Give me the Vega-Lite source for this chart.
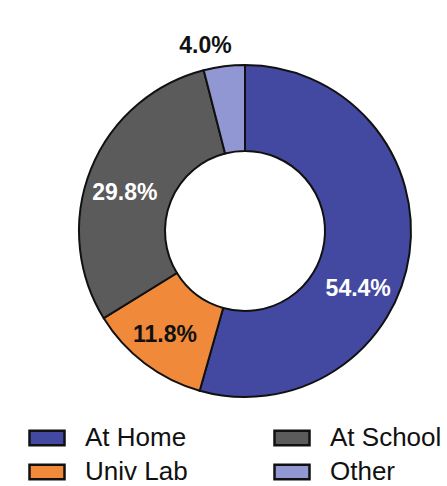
{
  "$schema": "https://vega.github.io/schema/vega-lite/v6.json",
  "autosize": {"type": "none"},
  "width": 400,
  "height": 400,
  "padding": {"left": 45, "top": 31, "right": 2, "bottom": 55},
  "background": "white",
  "config": {"view": {"stroke": null}},
  "data": {
    "values": [
      {"category": "At Home", "value": 54.4, "idx": 1, "label": "54.4%"},
      {"category": "Univ Lab", "value": 11.8, "idx": 2, "label": "11.8%"},
      {"category": "At School", "value": 29.8, "idx": 3, "label": "29.8%"},
      {"category": "Other", "value": 4.0, "idx": 4, "label": "4.0%"}
    ]
  },
  "encoding": {
    "theta": {"field": "value", "type": "quantitative", "stack": true},
    "order": {"field": "idx", "type": "quantitative"}
  },
  "layer": [
    {
      "mark": {"type": "arc", "outerRadius": 166, "innerRadius": 80, "stroke": "#111111", "strokeWidth": 2},
      "encoding": {
        "color": {
          "field": "category",
          "type": "nominal",
          "scale": {
            "domain": ["At Home", "Univ Lab", "At School", "Other"],
            "range": ["#4349a0", "#f08a3a", "#5b5b5b", "#9197d2"]
          },
          "legend": {
            "title": null,
            "orient": "none",
            "legendX": -17,
            "legendY": 388,
            "columns": 2,
            "columnPadding": 81,
            "rowPadding": 2,
            "symbolType": "M-1,-0.42H1V0.42H-1Z",
            "symbolSize": 1225,
            "symbolStrokeColor": "#111111",
            "symbolStrokeWidth": 2.5,
            "symbolOpacity": 1,
            "labelFont": "Liberation Sans",
            "labelFontSize": 26,
            "labelColor": "#111111",
            "labelOffset": 19,
            "labelLimit": 300
          }
        }
      }
    },
    {
      "mark": {"type": "text", "radius": 127, "thetaOffset": 0.332, "font": "Liberation Sans", "fontWeight": "bold", "fontSize": 23, "color": "white", "align": "center", "baseline": "middle"},
      "encoding": {
        "text": {"condition": {"test": "datum.category === 'At Home'", "field": "label"}, "value": ""}
      }
    },
    {
      "mark": {"type": "text", "radius": 131, "thetaOffset": 0.01, "font": "Liberation Sans", "fontWeight": "bold", "fontSize": 23, "color": "#111111", "align": "center", "baseline": "middle"},
      "encoding": {
        "text": {"condition": {"test": "datum.category === 'Univ Lab'", "field": "label"}, "value": ""}
      }
    },
    {
      "mark": {"type": "text", "radius": 126, "thetaOffset": -0.079, "font": "Liberation Sans", "fontWeight": "bold", "fontSize": 23, "color": "white", "align": "center", "baseline": "middle"},
      "encoding": {
        "text": {"condition": {"test": "datum.category === 'At School'", "field": "label"}, "value": ""}
      }
    },
    {
      "mark": {"type": "text", "radius": 189, "thetaOffset": -0.085, "font": "Liberation Sans", "fontWeight": "bold", "fontSize": 23, "color": "#111111", "align": "center", "baseline": "middle"},
      "encoding": {
        "text": {"condition": {"test": "datum.category === 'Other'", "field": "label"}, "value": ""}
      }
    }
  ]
}
